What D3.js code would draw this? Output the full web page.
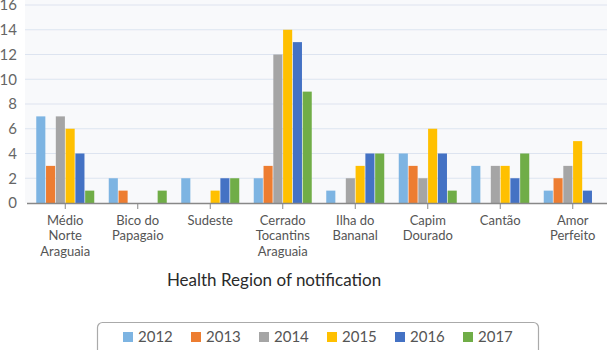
<!DOCTYPE html>
<html><head><meta charset="utf-8">
<script src="https://cdn.jsdelivr.net/npm/d3@7"></script>
<style>
body{margin:0;background:#fff;}
svg{display:block;font-family:Lato,"Open Sans",sans-serif;}
</style></head>
<body><svg id="c" width="607" height="350"></svg>
<script>
const categories = [["Médio","Norte","Araguaia"],["Bico do","Papagaio"],["Sudeste"],["Cerrado","Tocantins","Araguaia"],["Ilha do","Bananal"],["Capim","Dourado"],["Cantão"],["Amor","Perfeito"]];
const years = ["2012","2013","2014","2015","2016","2017"];
const colors = ["#7db4e2","#ed7d31","#a5a5a5","#ffc000","#4472c4","#70ad47"];
const v2012 = [7,2,2,2,1,4,3,1];
const v2013 = [3,1,0,3,0,3,0,2];
const v2014 = [7,0,0,12,2,2,3,3];
const v2015 = [6,0,1,14,3,6,3,5];
const v2016 = [4,0,2,13,4,4,2,1];
const v2017 = [1,1,2,9,4,1,4,0];
const yTicks = [0,2,4,6,8,10,12,14,16];
const series = [v2012,v2013,v2014,v2015,v2016,v2017];

const svg = d3.select("#c");
const x0 = d3.scaleBand().domain(d3.range(categories.length)).range([29,609]).paddingInner(0.2).paddingOuter(0.1);
const x1 = d3.scaleBand().domain(d3.range(years.length)).range([0,x0.bandwidth()]).paddingInner(0.07);
const y = d3.scaleLinear().domain([0,16]).range([203,5]);

svg.append("rect").attr("x",25).attr("y",0).attr("width",582).attr("height",203).attr("fill","#f8f9fb");
svg.append("g").selectAll("line").data(yTicks.slice(1)).join("line")
  .attr("x1",25).attr("x2",607).attr("y1",d=>y(d)).attr("y2",d=>y(d))
  .attr("stroke","#dde4f0").attr("stroke-width",1.2);
svg.append("g").selectAll("text").data(yTicks).join("text")
  .attr("x",17).attr("y",d=>y(d)).attr("dy","0.36em").attr("text-anchor","end")
  .attr("font-size",15).attr("fill","#666").text(d=>d);

const g = svg.append("g");
categories.forEach((c,i)=>{
  series.forEach((s,j)=>{
    if(s[i]>0) g.append("rect").attr("x",x0(i)+x1(j)).attr("y",y(s[i]))
      .attr("width",x1.bandwidth()).attr("height",y(0)-y(s[i])).attr("fill",colors[j]);
  });
});

svg.append("line").attr("x1",27).attr("x2",607).attr("y1",203.5).attr("y2",203.5).attr("stroke","#888").attr("stroke-width",1.3);
const ticks = svg.append("g");
categories.forEach((c,i)=>{
  const cx = x0(i)+x0.bandwidth()/2;
  ticks.append("line").attr("x1",cx).attr("x2",cx).attr("y1",203).attr("y2",209).attr("stroke","#888");
  c.forEach((line,k)=>ticks.append("text").attr("x",cx).attr("y",224.5+k*15.5)
    .attr("text-anchor","middle").attr("font-size",13).attr("fill","#555").text(line));
});

svg.append("text").attr("x",274).attr("y",286).attr("text-anchor","middle").attr("font-size",17).attr("fill","#2a2a2a").text("Health Region of notification");

svg.append("rect").attr("x",97.5).attr("y",322.5).attr("width",441).attr("height",34).attr("rx",5).attr("fill","#fff").attr("stroke","#aaa").attr("stroke-width",1.2);
const lg = svg.append("g");
years.forEach((yr,j)=>{
  const lx = 123 + j*68;
  lg.append("rect").attr("x",lx).attr("y",332).attr("width",10).attr("height",10).attr("fill",colors[j]);
  lg.append("text").attr("x",lx+15).attr("y",337).attr("dy","0.36em").attr("font-size",15).attr("fill","#555").text(yr);
});
</script></body></html>
